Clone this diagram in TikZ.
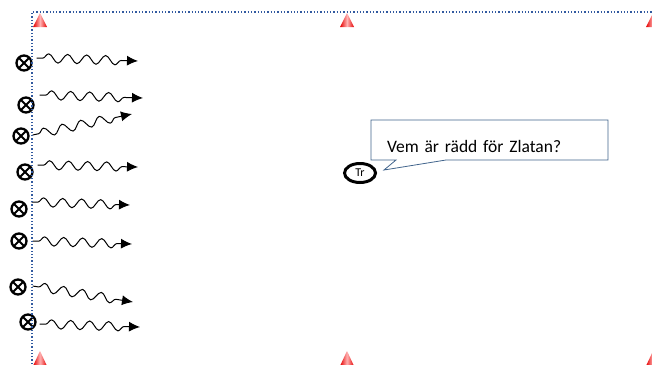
\documentclass[tikz,border=0pt]{standalone}
\usepackage{fontspec}
\setmainfont{Carlito}
\usetikzlibrary{shapes.geometric,shapes.callouts,decorations.pathmorphing,arrows.meta}
\definecolor{fieldblue}{RGB}{50,90,160}
\definecolor{bubbleline}{RGB}{65,100,140}

\begin{document}
\begin{tikzpicture}[x=1pt,y=-1pt,
	player/.style={circle,draw,line width=2.3pt,minimum size=15pt,inner sep=0pt,
		path picture={\draw[line width=2pt] (path picture bounding box.north west)--(path picture bounding box.south east)
			(path picture bounding box.north east)--(path picture bounding box.south west);}},
	run/.style={decorate,decoration={snake,amplitude=4.5pt,segment length=19pt,pre length=6pt,post length=10pt},
		-{Latex[length=11pt,width=10pt]},line width=1pt},
	cone/.style={left color=red!90!black,right color=red!90!black,middle color=red!30}]
				\useasboundingbox (0,0) rectangle (652,364);
				\node[player] (p1) at (24,63) {};
				\node[player] (p2) at (26,105) {};
				\node[player] (p3) at (21,136) {};
				\node[player] (p4) at (25,172) {};
				\node[player] (p5) at (19,209) {};
				\node[player] (p6) at (19,241) {};
				\node[player] (p7) at (18,287) {};
				\node[player] (p8) at (28,322) {};
				\coordinate (e1) at (138,61);
				\coordinate (e2) at (143,98);
				\coordinate (e3) at (132,114);
				\coordinate (e4) at (138,167);
				\coordinate (e5) at (130,205);
				\coordinate (e6) at (132,244);
				\coordinate (e7) at (133,302);
				\coordinate (e8) at (140,327);
				\draw[run] ([shift={(4,-5)}]p1.east) -- (e1);
				\draw[run] ([shift={(5,-10)}]p2.east) -- (e2);
				\draw[run] ([shift={(3,-1)}]p3.east) -- (e3);
				\draw[run] ([shift={(4,-7)}]p4.east) -- (e4);
				\draw[run] ([shift={(4,-7)}]p5.east) -- (e5);
				\draw[run] ([shift={(5,0)}]p6.east) -- (e6);
				\draw[run] ([shift={(6,-1)}]p7.east) -- (e7);
				\draw[run] ([shift={(3,2)}]p8.east) -- (e8);
				% \draw[run] (p4.east) -- (tr.west);
				\draw[fieldblue,dotted,line width=1.3pt] (32,364) -- (32,12) -- (652,12);
				\foreach \x in {40,347,653} {
					\shade[cone] (\x,13) -- (\x+7,27) -- (\x-7,27) -- cycle;
					\shade[cone] (\x,351) -- (\x+7,366) -- (\x-7,366) -- cycle;
				}
				\node[ellipse,draw,line width=3pt,minimum width=31pt,minimum height=19pt,inner sep=0pt,
					font=\fontsize{12}{12}\selectfont] (tr) at (360,173) {Tr};
				\node[rectangle callout,draw=bubbleline,fill=white,line width=0.8pt,text width=205pt,
					inner xsep=16pt,inner ysep=8pt,text height=24pt,text depth=0pt,align=left,
					font=\fontsize{17.5}{20}\selectfont,callout pointer width=50pt,
					callout absolute pointer={([xshift=7pt,yshift=3pt]tr.east)}] (bubble) at (489.5,140) {Vem är rädd för Zlatan?};
			\end{tikzpicture}
\end{document}
